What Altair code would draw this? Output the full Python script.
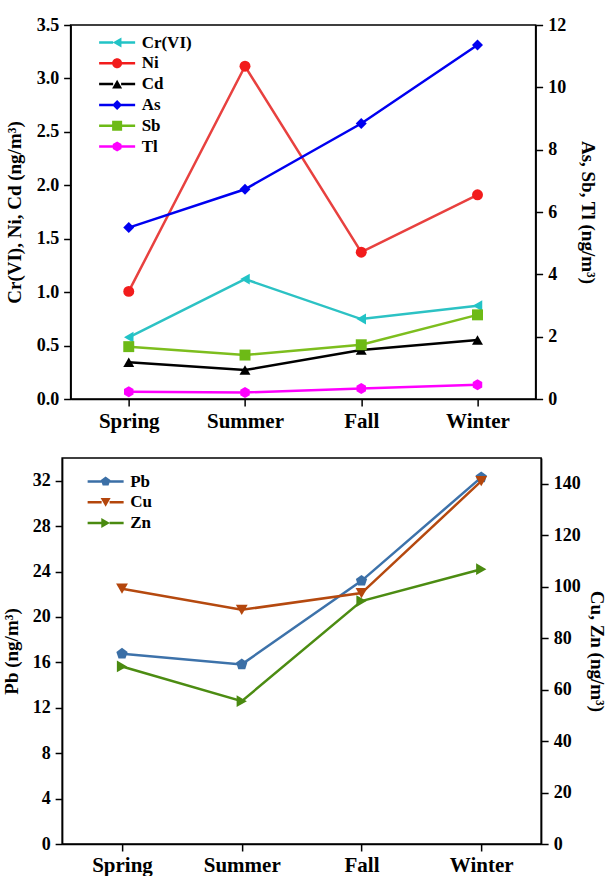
import altair as alt
import pandas as pd

seasons = ["Spring", "Summer", "Fall", "Winter"]

# Top panel, left axis (ng/m3)
cr6 = [0.577, 1.122, 0.748, 0.873]
ni = [1.007, 3.114, 1.374, 1.911]
cd = [0.343, 0.271, 0.458, 0.552]
# Top panel, right axis (ng/m3)
as_vals = [5.50, 6.73, 8.84, 11.36]
sb = [1.68, 1.41, 1.74, 2.70]
tl = [0.235, 0.21, 0.34, 0.46]

# Bottom panel
pb = [16.76, 15.82, 23.18, 32.29]
cu = [99.2, 91.0, 97.5, 141.0]
zn = [69.0, 55.5, 94.4, 106.8]

top_names = ["Cr(VI)", "Ni", "Cd", "As", "Sb", "Tl"]
bot_names = ["Pb", "Cu", "Zn"]

top_ticks_left = [0, 0.5, 1.0, 1.5, 2.0, 2.5, 3.0, 3.5]
top_ticks_right = [0, 2, 4, 6, 8, 10, 12]
bot_ticks_left = [0, 4, 8, 12, 16, 20, 24, 28, 32]
bot_ticks_right = [0, 20, 40, 60, 80, 100, 120, 140]

FONT = "Liberation Serif"


def long_df(names, series):
    rows = []
    for n, vals in zip(names, series):
        for s, v in zip(seasons, vals):
            rows.append({"season": s, "metal": n, "value": v})
    return pd.DataFrame(rows)


def poly(pts):
    return "M" + " L".join(f"{x:.3f},{y:.3f}" for x, y in pts) + " Z"


H = 0.866
HEX = poly([(0, -1), (0.866, -0.5), (0.866, 0.5), (0, 1), (-0.866, 0.5), (-0.866, -0.5)])
PENT = poly([(0, -1), (0.951, -0.309), (0.588, 0.809), (-0.588, 0.809), (-0.951, -0.309)])

marker_path = {
    "circle": "M-1,0 A1,1 0 1,1 1,0 A1,1 0 1,1 -1,0 Z",
    "square": poly([(-1, -1), (1, -1), (1, 1), (-1, 1)]),
    "diamond": poly([(-1, 0), (0, -1), (1, 0), (0, 1)]),
    "triangle-up": poly([(0, -H), (1, H), (-1, H)]),
    "triangle-down": poly([(0, H), (-1, -H), (1, -H)]),
    "triangle-left": poly([(-H, 0), (H, -1), (H, 1)]),
    "triangle-right": poly([(H, 0), (-H, 1), (-H, -1)]),
    HEX: HEX,
    PENT: PENT,
}


def legend_path(shape, half=3.6, th=0.25):
    left = poly([(-half, -th), (-0.8, -th), (-0.8, th), (-half, th)])
    right = poly([(0.8, -th), (half, -th), (half, th), (0.8, th)])
    return left + " " + right + " " + marker_path[shape]


def panel(dfs, domains, ticks, titles, fmts, names, colors, line_colors, shapes,
          w, h, size, lx, ly, xpad, tpads):
    legend = alt.Legend(
        title=None, orient="none", legendX=lx, legendY=ly,
        symbolSize=100, labelOffset=16, rowPadding=2.8,
        labelFont=FONT, labelFontSize=17, labelFontWeight="bold",
        labelColor="black", symbolStrokeWidth=0, padding=0,
    )
    x = alt.X("season:N", sort=seasons,
              scale=alt.Scale(domain=seasons, type="point", padding=0.5),
              axis=alt.Axis(title=None, labelAngle=0, labelFontSize=21,
                            labelPadding=xpad))
    style = dict(zip(names, zip(colors, line_colors, shapes)))
    sides = []
    for df, dom, tk, title, fmt, orient, tpad in zip(
            dfs, domains, ticks, titles, fmts, ["left", "right"], tpads):
        y = alt.Y("value:Q",
                  scale=alt.Scale(domain=dom, nice=False, zero=True),
                  axis=alt.Axis(title=title, orient=orient, values=tk,
                                format=fmt, titlePadding=tpad))
        layers = []
        for name in df["metal"].unique():
            col, lcol, shp = style[name]
            base = alt.Chart(df).transform_filter(
                alt.datum.metal == name)
            layers.append(base.mark_line(strokeWidth=2.5, color=lcol).encode(
                x=x, y=y))
            layers.append(base.mark_point(
                filled=True, opacity=1, size=size, strokeWidth=0,
                shape=shp, color=col).encode(x=x, y=y))
        sides.append(alt.layer(*layers))
    legend_df = pd.DataFrame({"metal": names})
    legend_layer = alt.Chart(legend_df).transform_filter("false").mark_point(
        filled=True, opacity=1, strokeWidth=0
    ).encode(
        color=alt.Color("metal:N", scale=alt.Scale(domain=names, range=colors),
                        legend=legend),
        shape=alt.Shape("metal:N",
                        scale=alt.Scale(domain=names,
                                        range=[legend_path(s) for s in shapes]),
                        legend=legend),
    )
    return alt.layer(*sides, legend_layer).resolve_scale(
        y="independent").properties(width=w, height=h)


top = panel(
    dfs=[long_df(top_names[:3], [cr6, ni, cd]),
         long_df(top_names[3:], [as_vals, sb, tl])],
    domains=[[0, 3.5], [0, 12]],
    ticks=[top_ticks_left, top_ticks_right],
    titles=["Cr(VI), Ni, Cd (ng/m³)", "As, Sb, Tl (ng/m³)"],
    fmts=[".1f", "d"],
    names=top_names,
    colors=["#22C3C6", "#F21C1C", "#000000", "#0000F0", "#6DBA16", "#FF00FF"],
    line_colors=["#2CC2C4", "#E8413F", "#000000", "#0000F0", "#7DBE1E", "#FF00FF"],
    shapes=["triangle-left", "circle", "triangle-up", "diamond", "square", HEX],
    w=465, h=374, size=120, lx=38, ly=9, xpad=4, tpads=[12, 12],
)

bottom = panel(
    dfs=[long_df(bot_names[:1], [pb]),
         long_df(bot_names[1:], [cu, zn])],
    domains=[[0, 34], [0, 150]],
    ticks=[bot_ticks_left, bot_ticks_right],
    titles=["Pb (ng/m³)", "Cu, Zn (ng/m³)"],
    fmts=["d", "d"],
    names=bot_names,
    colors=["#3B6FA6", "#B4460C", "#4A8A10"],
    line_colors=["#3D72AA", "#B5490F", "#4C8C12"],
    shapes=[PENT, "triangle-down", "triangle-right"],
    w=479, h=386, size=140, lx=35, ly=15, xpad=3, tpads=[11, 6],
)

chart = alt.vconcat(top, bottom, spacing=25, center=True).properties(
    padding={"left": 1, "top": 15, "right": 0, "bottom": 0},
    background="white",
).resolve_scale(color="independent", shape="independent").configure_view(
    stroke="black", strokeWidth=1.5
).configure_axis(
    domainColor="black", domainWidth=1.5, tickColor="black", tickWidth=1.5,
    tickSize=7, labelFont=FONT, labelFontWeight="bold", labelFontSize=18,
    labelColor="black", labelPadding=5, grid=False, titleFont=FONT,
    titleFontWeight="bold", titleFontSize=19, titleColor="black",
)

chart.save("out.html", embed_options={"renderer": "svg", "actions": False})
